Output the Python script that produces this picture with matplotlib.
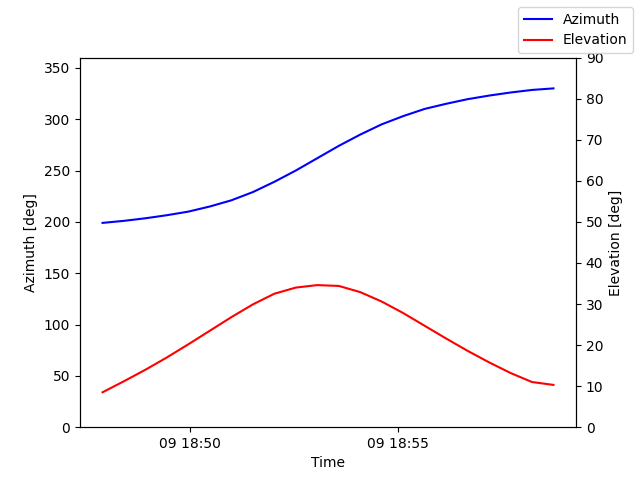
import pandas as pd
import matplotlib
matplotlib.use("Agg")
import matplotlib.pyplot as plt
import matplotlib.dates as mdates

# ── Data ────────────────────────────────────────────────────
times = pd.date_range("2024-01-09 18:47:54", periods=22, freq="31s")
azimuth = [199, 201, 203.5, 206.5, 210, 215, 221, 229, 239, 250, 262,
           274, 285, 295, 303, 310, 315, 319.5, 323, 326, 328.5, 330]
elevation = [8.5, 11.2, 14.0, 17.0, 20.2, 23.5, 26.8, 29.9, 32.5, 34.0, 34.6,
             34.4, 32.9, 30.6, 27.8, 24.7, 21.6, 18.6, 15.8, 13.2, 11.0, 10.3]

fig, ax = plt.subplots(figsize=(6.4, 4.8), dpi=100)
ax.plot(times, azimuth, color="blue", label="Azimuth")
ax.set_ylim(0, 360)
ax.set_xlabel("Time")
ax.set_ylabel("Azimuth [deg]")
ax.xaxis.set_major_locator(mdates.MinuteLocator(byminute=[50, 55]))
ax.xaxis.set_major_formatter(mdates.DateFormatter("%d %H:%M"))

ax2 = ax.twinx()
ax2.plot(times, elevation, color="red", label="Elevation")
ax2.set_ylim(0, 90)
ax2.set_ylabel("Elevation [deg]")

fig.legend(loc="upper right")
fig.savefig("out.png")
